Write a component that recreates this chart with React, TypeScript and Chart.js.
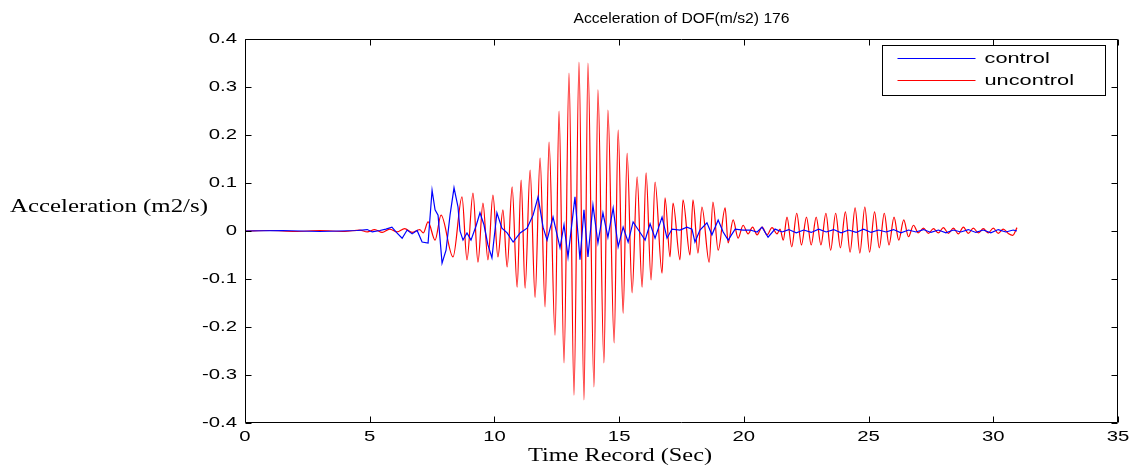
import React, { useEffect, useRef } from "react";
import { Chart, registerables } from "chart.js";

Chart.register(...registerables);

const chartTitle = "Acceleration of DOF(m/s2) 176";
const xAxisTitle = "Time Record (Sec)";
const yAxisTitle = "Acceleration (m2/s)";
const seriesNames = ["control", "uncontrol"];

const xTicks = [0, 5, 10, 15, 20, 25, 30, 35];
const xTickLabels = ["0", "5", "10", "15", "20", "25", "30", "35"];
const yTicks = [-0.4, -0.3, -0.2, -0.1, 0, 0.1, 0.2, 0.3, 0.4];
const yTickLabels = ["-0.4", "-0.3", "-0.2", "-0.1", "0", "0.1", "0.2", "0.3", "0.4"];

const uncontrolTime = [
  0, 1.0, 2.0, 3.0, 4.0, 4.6, 4.9, 5.2, 5.5, 5.8, 6.1, 6.4, 6.7, 7.0, 7.15,
  7.34, 7.62, 7.86, 8.34, 8.7, 8.9, 9.14, 9.34, 9.54, 9.74, 9.94, 10.14, 10.34, 10.51,
  10.71, 10.91, 11.07, 11.23, 11.43, 11.63, 11.83, 12.03, 12.19, 12.43, 12.59, 12.79,
  12.99, 13.19, 13.39, 13.59, 13.75, 13.99, 14.15, 14.39, 14.55, 14.8, 14.96, 15.16,
  15.32, 15.52, 15.72, 15.92, 16.08, 16.28, 16.44, 16.72, 16.84, 17.04, 17.16, 17.44,
  17.56, 17.84, 17.96, 18.16, 18.32, 18.61, 18.76, 18.97, 19.25, 19.37, 19.57, 19.77,
  19.97, 20.17, 20.35, 20.53, 20.73, 20.93, 21.13, 21.33, 21.45, 21.58,
  21.73, 21.92, 22.12, 22.31, 22.51, 22.7, 22.9, 23.09, 23.29, 23.48, 23.68, 23.87,
  24.07, 24.26, 24.46, 24.65, 24.85, 25.04, 25.24, 25.43, 25.63, 25.82, 26.02, 26.21,
  26.41, 26.6, 26.8, 26.99, 27.2, 27.4, 27.6, 27.8, 28.0, 28.2, 28.4, 28.6, 28.8, 29.0,
  29.2, 29.4, 29.6, 29.8, 30.0, 30.2, 30.4, 30.6, 30.78, 30.95,
];
const uncontrolAcc = [
  0, 0.001, -0.001, 0.001, -0.001, 0.002, -0.002, 0.003, -0.003, 0.004, -0.002, 0.005, -0.003, 0.003, -0.004,
  0.019, -0.019, 0.033, -0.054, 0.071, -0.06, 0.079, -0.065, 0.058, -0.06, 0.075, -0.054, 0.044, -0.075,
  0.092, -0.117, 0.106, -0.119, 0.127, -0.138, 0.152, -0.158, 0.185, -0.217, 0.25, -0.275,
  0.329, -0.342, 0.352, -0.352, 0.35, -0.325, 0.294, -0.275, 0.252, -0.233, 0.21, -0.171,
  0.162, -0.129, 0.113, -0.117, 0.121, -0.102, 0.102, -0.088, 0.069, -0.054, 0.058, -0.06,
  0.065, -0.05, 0.065, -0.046, 0.05, -0.065, 0.06, -0.04, 0.048, -0.025, 0.023, -0.015,
  0.012, -0.006, 0.008, -0.008, 0.008, -0.008, 0.007, -0.006, 0.004, -0.019,
  0.029, -0.033, 0.037, -0.029, 0.029, -0.029, 0.029, -0.029, 0.037, -0.04, 0.037, -0.035,
  0.04, -0.044, 0.048, -0.046, 0.05, -0.044, 0.04, -0.035, 0.037, -0.029, 0.029, -0.019,
  0.023, -0.012, 0.012, -0.004, 0.006, -0.005, 0.005, -0.004, 0.007, -0.005, 0.006, -0.006, 0.008, -0.005,
  0.006, -0.004, 0.005, -0.004, 0.006, -0.005, 0.004, -0.005, -0.009, 0.007,
];

const controlTime = [
  0, 1.5, 3.0, 4.5, 4.9, 5.1, 5.41, 5.65, 5.89, 6.09, 6.3, 6.5, 6.7, 6.9, 7.1, 7.34,
  7.5, 7.62, 7.74, 7.9, 8.06, 8.22, 8.38, 8.54, 8.62, 8.74, 8.9, 9.06, 9.26, 9.42, 9.58,
  9.74, 9.9, 10.1, 10.3, 10.51, 10.75, 11.03, 11.31, 11.55, 11.75, 11.95, 12.11, 12.35,
  12.63, 12.79, 12.95, 13.23, 13.43, 13.59, 13.75, 13.95, 14.15, 14.35, 14.55, 14.76,
  14.96, 15.16, 15.36, 15.56, 15.8, 16.04, 16.24, 16.44, 16.72, 16.92, 17.12, 17.44,
  17.72, 17.92, 18.04, 18.24, 18.52, 18.72, 18.97, 19.17, 19.37, 19.65, 19.97, 20.25,
  20.53, 20.73, 20.97, 21.25, 21.53, 21.8, 22.1, 22.4, 22.7, 23.0, 23.3, 23.6, 23.9,
  24.2, 24.5, 24.8, 25.1, 25.4, 25.7, 26.0, 26.3, 26.6, 26.9, 27.2, 27.5, 27.8, 28.1,
  28.4, 28.7, 29.0, 29.3, 29.6, 29.9, 30.2, 30.5, 30.8, 30.95,
];
const controlAcc = [
  0, 0.001, -0.001, 0.001, 0.003, -0.002, 0.001, 0.004, 0.008, -0.004, -0.015, 0.002, -0.006, 0.001, -0.023, -0.025,
  0.085, 0.044, 0.033, -0.067, -0.04, 0.033, 0.09, 0.05, 0.0, -0.019, -0.004, -0.019, 0.01, 0.038, 0.013,
  -0.029, -0.056, 0.038, 0.006, -0.004, -0.023, -0.004, 0.006, 0.033, 0.071, 0.008, -0.019, 0.029,
  -0.035, 0.013, -0.054, 0.071, -0.06, 0.044, -0.054, 0.054, -0.025, 0.038, -0.013, 0.048,
  -0.033, 0.008, -0.023, 0.019, 0.0, -0.019, 0.015, -0.015, 0.029, -0.015, 0.004, 0.002,
  0.008, 0.004, -0.023, 0.002, 0.017, -0.008, 0.023, -0.002, -0.019, 0.004, 0.002, 0.002,
  -0.002, 0.008, -0.013, 0.004, -0.002, 0.003, -0.004, 0.002, -0.003, 0.004, -0.002, 0.003, -0.004,
  0.002, -0.003, 0.004, -0.003, 0.002, -0.002, 0.003, -0.004, 0.002, -0.002, 0.003, -0.003, 0.002, -0.004,
  0.002, -0.002, 0.003, -0.003, 0.002, -0.004, 0.003, -0.002, 0.002, 0.0,
];

const SANS = '"Liberation Sans", Arial, sans-serif';
const SERIF = '"Liberation Serif", "Times New Roman", serif';

function drawText(
  ctx: CanvasRenderingContext2D,
  text: string,
  x: number,
  y: number,
  font: string,
  align: CanvasTextAlign,
  sx: number
) {
  ctx.save();
  ctx.font = font;
  ctx.fillStyle = "#000";
  ctx.textAlign = align;
  ctx.textBaseline = "middle";
  ctx.translate(x, y);
  ctx.scale(sx, 1);
  ctx.fillText(text, 0, 0);
  ctx.restore();
}

const decorPlugin = {
  id: "decor",
  afterDraw(chart: any) {
    const ctx: CanvasRenderingContext2D = chart.ctx;
    const area = chart.chartArea;
    const xs = chart.scales.x;
    const ys = chart.scales.y;
    const tl = 6;
    ctx.save();
    ctx.strokeStyle = "#000";
    ctx.lineWidth = 1;
    const L = Math.round(area.left) + 0.5;
    const R = Math.round(area.right) - 0.5;
    const T = Math.round(area.top) + 0.5;
    const B = Math.round(area.bottom) - 0.5;
    ctx.beginPath();
    ctx.rect(L, T, R - L, B - T);
    ctx.stroke();
    ctx.beginPath();
    xTicks.forEach((v) => {
      const px = Math.round(xs.getPixelForValue(v)) + 0.5;
      ctx.moveTo(px, B);
      ctx.lineTo(px, B - tl);
      ctx.moveTo(px, T);
      ctx.lineTo(px, T + tl);
    });
    yTicks.forEach((v) => {
      const py = Math.round(ys.getPixelForValue(v)) + 0.5;
      ctx.moveTo(L, py);
      ctx.lineTo(L + tl, py);
      ctx.moveTo(R, py);
      ctx.lineTo(R - tl, py);
    });
    ctx.stroke();
    ctx.restore();

    const tickFont = `14px ${SANS}`;
    xTicks.forEach((v, i) => {
      drawText(ctx, xTickLabels[i], xs.getPixelForValue(v), area.bottom + 14, tickFont, "center", 1.45);
    });
    yTicks.forEach((v, i) => {
      drawText(ctx, yTickLabels[i], area.left - 8, ys.getPixelForValue(v), tickFont, "right", 1.45);
    });

    drawText(ctx, chartTitle, (area.left + area.right) / 2, 19, `14px ${SANS}`, "center", 1.12);
    drawText(ctx, xAxisTitle, 620, 456, `18px ${SERIF}`, "center", 1.35);
    drawText(ctx, yAxisTitle, 10, 207, `18px ${SERIF}`, "left", 1.38);

    // legend box
    const lw = 223;
    const lh = 50;
    const lx = Math.round(area.right - 13 - lw) + 0.5;
    const ly = Math.round(area.top + 6) + 0.5;
    ctx.save();
    ctx.fillStyle = "#fff";
    ctx.fillRect(lx, ly, lw, lh);
    ctx.strokeStyle = "#000";
    ctx.lineWidth = 1;
    ctx.strokeRect(lx, ly, lw, lh);
    const colors = chart.data.datasets.map((d: any) => d.borderColor);
    const labels = chart.data.datasets.map((d: any) => d.label);
    [0, 1].forEach((i) => {
      const yy = ly + 13 + i * 22;
      ctx.beginPath();
      ctx.strokeStyle = colors[i];
      ctx.lineWidth = 1.2;
      ctx.moveTo(lx + 15, yy);
      ctx.lineTo(lx + 93, yy);
      ctx.stroke();
      drawText(ctx, labels[i], lx + 102, yy, `15px ${SANS}`, "left", 1.45);
    });
    ctx.restore();
  },
};

export default function App() {
  const canvasRef = useRef<HTMLCanvasElement | null>(null);

  useEffect(() => {
    const canvas = canvasRef.current;
    if (!canvas) return;
    const chart = new Chart(canvas, {
      type: "line",
      data: {
        datasets: [
          {
            label: seriesNames[0],
            data: controlTime.map((t, i) => ({ x: t, y: controlAcc[i] })),
            borderColor: "rgb(0,0,255)",
            borderWidth: 1.2,
            pointRadius: 0,
            fill: false,
            tension: 0,
            order: 1,
          },
          {
            label: seriesNames[1],
            data: uncontrolTime.map((t, i) => ({ x: t, y: uncontrolAcc[i] })),
            borderColor: "rgb(255,0,0)",
            borderWidth: 1.2,
            pointRadius: 0,
            fill: false,
            cubicInterpolationMode: "monotone",
            order: 2,
          },
        ],
      },
      options: {
        animation: false,
        responsive: false,
        devicePixelRatio: 1,
        layout: { padding: { left: 0, right: 17, top: 39, bottom: 0 } },
        plugins: {
          legend: { display: false },
          title: { display: false },
          tooltip: { enabled: false },
        },
        scales: {
          x: {
            type: "linear",
            min: 0,
            max: 35,
            ticks: { display: false, stepSize: 5 },
            grid: { display: false },
            border: { display: false },
            afterFit: (s: any) => {
              s.height = 46;
            },
          },
          y: {
            type: "linear",
            min: -0.4,
            max: 0.4,
            ticks: { display: false, stepSize: 0.1 },
            grid: { display: false },
            border: { display: false },
            afterFit: (s: any) => {
              s.width = 245;
            },
          },
        },
      },
      plugins: [decorPlugin],
    });
    return () => chart.destroy();
  }, []);

  return (
    <div style={{ position: "absolute", left: 0, top: 0, width: 1135, height: 469, background: "#fff" }}>
      <canvas ref={canvasRef} width={1135} height={469} />
    </div>
  );
}
